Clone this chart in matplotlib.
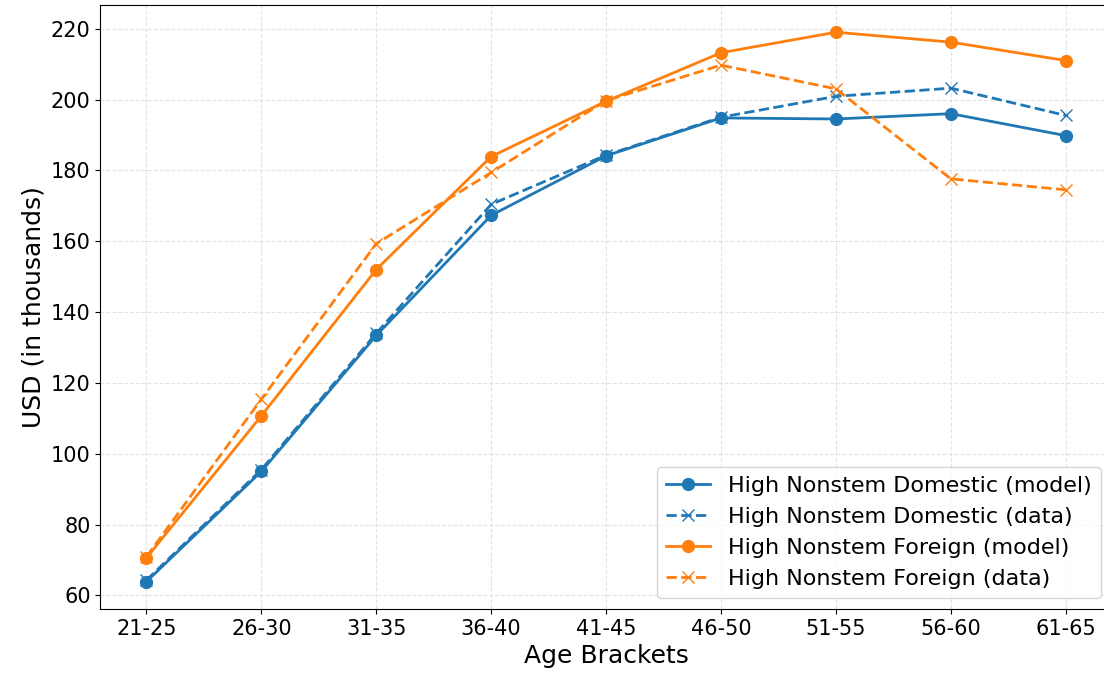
import matplotlib.pyplot as plt
import numpy as np

brackets = ["21-25", "26-30", "31-35", "36-40", "41-45", "46-50", "51-55", "56-60", "61-65"]

dom_model = [63.9, 95.0, 133.4, 167.3, 184.1, 194.8, 194.5, 196.0, 189.8]
dom_data = [64.3, 95.5, 134.0, 170.4, 184.3, 195.0, 200.9, 203.2, 195.5]
for_model = [70.6, 110.7, 152.0, 183.9, 199.5, 213.2, 219.0, 216.2, 211.0]
for_data = [70.9, 115.4, 159.3, 179.4, 199.7, 209.7, 203.0, 177.6, 174.5]

fig, ax = plt.subplots(figsize=(11.04, 6.76), dpi=100)
x = np.arange(len(brackets))

ax.plot(x, dom_model, color="tab:blue", marker="o", ls="-", lw=2, ms=8.5,
        label="High Nonstem Domestic (model)")
ax.plot(x, dom_data, color="tab:blue", marker="x", ls="--", lw=2, ms=8.5,
        label="High Nonstem Domestic (data)")
ax.plot(x, for_model, color="tab:orange", marker="o", ls="-", lw=2, ms=8.5,
        label="High Nonstem Foreign (model)")
ax.plot(x, for_data, color="tab:orange", marker="x", ls="--", lw=2, ms=8.5,
        label="High Nonstem Foreign (data)")

ax.set_xticks(x)
ax.set_xticklabels(brackets)
ax.tick_params(labelsize=15)
ax.set_xlabel("Age Brackets", fontsize=18)
ax.set_ylabel("USD (in thousands)", fontsize=18)
ax.grid(True, ls="--", color="#dddddd", alpha=0.8)
ax.legend(loc="lower right", fontsize=16)

# the original image is cropped: the right spine falls just outside it
fig.subplots_adjust(left=0.091, right=1.007, top=0.993, bottom=0.099)
fig.savefig("out.png")
